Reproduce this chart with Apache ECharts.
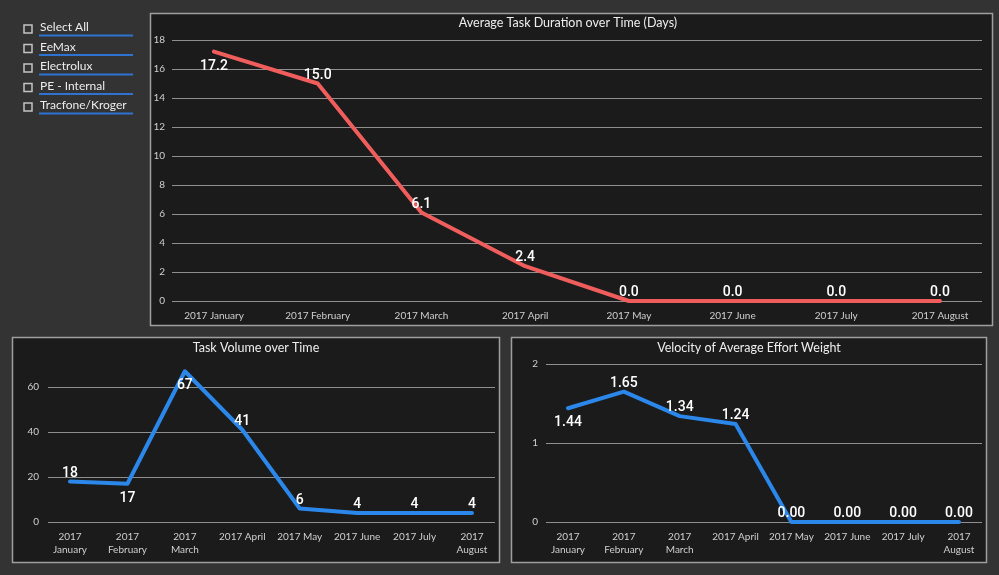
<!DOCTYPE html>
<html>
<head>
<meta charset="utf-8">
<script src="https://cdn.jsdelivr.net/npm/echarts@6/dist/echarts.min.js"></script>
<style>
html,body{margin:0;padding:0;background:#333333;}
#c{width:999px;height:575px;}
</style>
</head>
<body>
<div id="c"></div>
<script>
// ---- data ----
var months = ['2017 January','2017 February','2017 March','2017 April','2017 May','2017 June','2017 July','2017 August'];
var bottomTickLabels = ['2017\nJanuary','2017\nFebruary','2017\nMarch','2017 April','2017 May','2017 June','2017 July','2017\nAugust'];
var durationDays = [17.2, 15.0, 6.1, 2.4, 0.0, 0.0, 0.0, 0.0];
var taskVolume = [18, 17, 67, 41, 6, 4, 4, 4];
var effortVelocity = [1.44, 1.65, 1.34, 1.24, 0.00, 0.00, 0.00, 0.00];
var slicerItems = ['Select All','EeMax','Electrolux','PE - Internal','Tracfone/Kroger'];
var titles = ['Average Task Duration over Time (Days)','Task Volume over Time','Velocity of Average Effort Weight'];

// ---- styling ----
var AX_FONT = 'Lato, "Open Sans", sans-serif';
var TXT_FONT = 'Lato, "Open Sans", sans-serif';
var LBL_FONT = 'Roboto, "DejaVu Sans Condensed", sans-serif';
var GRID_COLOR = '#8f8f8f';
var AX_COLOR = '#cfcfcf';
var RED = '#f05d5d';
var BLUE = '#2b88ea';

function withBelow(values, below) {
  return values.map(function (v, i) {
    return below.indexOf(i) >= 0 ? { value: v, label: { position: 'bottom', distance: 7 } } : v;
  });
}

var chart = echarts.init(document.getElementById('c'), null, { renderer: 'canvas' });

// panel geometry (pixels)
var P = [
  { x: 150, y: 13, w: 842, h: 312, dataL: 214, dataW: 726, splitL: 172, splitW: 810, top: 40, h0: 261 },
  { x: 12, y: 337, w: 487, h: 225, dataL: 70, dataW: 402, splitL: 48, splitW: 447, top: 387, h0: 135 },
  { x: 511, y: 337, w: 475, h: 225, dataL: 568, dataW: 391, splitL: 546, splitW: 436, top: 364, h0: 158 }
];
var yMax = [18, 60, 2];
var yInt = [2, 20, 1];
var yLabelMargin = [7, 9, 8];

var grids = [], xAxes = [], yAxes = [];
P.forEach(function (p, k) {
  grids.push({ left: p.splitL, top: p.top, width: p.splitW, height: p.h0 });
  grids.push({ left: p.dataL, top: p.top, width: p.dataW, height: p.h0 });
  xAxes.push({ gridIndex: 2 * k, type: 'value', show: false, min: 0, max: 1 });
  xAxes.push({
    gridIndex: 2 * k + 1, type: 'category', boundaryGap: false,
    data: months,
    axisLine: { show: false }, axisTick: { show: false }, splitLine: { show: false },
    axisLabel: {
      interval: 0, color: AX_COLOR, fontSize: 10, fontFamily: AX_FONT, margin: 8, lineHeight: 13,
      formatter: k === 0 ? null : function (v, i) { return bottomTickLabels[i]; }
    }
  });
  yAxes.push({
    gridIndex: 2 * k, type: 'value', min: 0, max: yMax[k], interval: yInt[k],
    axisLine: { show: false }, axisTick: { show: false },
    axisLabel: { color: AX_COLOR, fontSize: 10, fontFamily: AX_FONT, margin: yLabelMargin[k] },
    splitLine: { lineStyle: { color: GRID_COLOR, width: 1 } }
  });
  yAxes.push({ gridIndex: 2 * k + 1, type: 'value', min: 0, max: yMax[k], show: false, splitLine: { show: false } });
});

function lineSeries(k, data, color, fmt) {
  return {
    type: 'line', xAxisIndex: 2 * k + 1, yAxisIndex: 2 * k + 1,
    data: data, symbol: 'circle', symbolSize: 1, showSymbol: true, showAllSymbol: true,
    clip: false, smooth: false,
    itemStyle: { color: color },
    lineStyle: { color: color, width: 4, join: 'round', cap: 'round' },
    label: {
      show: true, position: 'top', distance: 1, color: '#ffffff',
      fontSize: 14, fontWeight: 500, fontFamily: LBL_FONT,
      formatter: function (p) { return fmt(p.value); }
    },
    labelLayout: { hideOverlap: false },
    z: 5
  };
}

var graphic = [];
P.forEach(function (p, k) {
  graphic.push({
    type: 'rect', z: -10,
    shape: { x: p.x + 0.5, y: p.y + 0.5, width: p.w, height: p.h },
    style: { fill: '#1b1b1b', stroke: '#9e9e9e', lineWidth: 1.5 }
  });
});
var titlePos = [[568, 23], [256, 348], [749, 348]];
titles.forEach(function (t, k) {
  graphic.push({
    type: 'text', z: 100, x: titlePos[k][0], y: titlePos[k][1],
    style: { text: t, fill: '#eeeeee', font: '12.5px ' + TXT_FONT, textAlign: 'center', textVerticalAlign: 'middle' }
  });
});
slicerItems.forEach(function (s, i) {
  var cy = 27.5 + i * 19.5;
  graphic.push({
    type: 'rect', z: 100,
    shape: { x: 24, y: cy - 2.5, width: 8, height: 8 },
    style: { fill: 'none', stroke: '#c4c4c4', lineWidth: 1.5 }
  });
  graphic.push({
    type: 'text', z: 100, x: 40, y: cy,
    style: { text: s, fill: '#ececec', font: '12px ' + TXT_FONT, textAlign: 'left', textVerticalAlign: 'middle' }
  });
  graphic.push({
    type: 'line', z: 100,
    shape: { x1: 39, y1: cy + 8, x2: 133, y2: cy + 8 },
    style: { stroke: '#2f73d2', lineWidth: 2 }
  });
});

chart.setOption({
  backgroundColor: '#333333',
  animation: false,
  grid: grids,
  xAxis: xAxes,
  yAxis: yAxes,
  graphic: graphic,
  series: [
    lineSeries(0, withBelow(durationDays, [0]), RED, function (v) { return v.toFixed(1); }),
    lineSeries(1, withBelow(taskVolume, [1, 2]), BLUE, function (v) { return String(Math.round(v)); }),
    lineSeries(2, withBelow(effortVelocity, [0]), BLUE, function (v) { return v.toFixed(2); })
  ]
});
</script>
</body>
</html>
